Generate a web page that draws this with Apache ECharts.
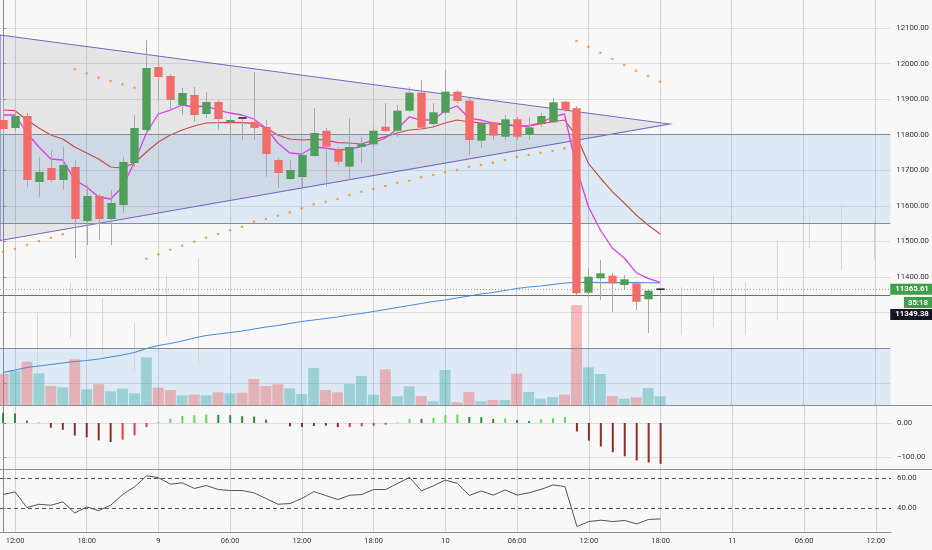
<!DOCTYPE html>
<html><head><meta charset="utf-8">
<script src="https://cdn.jsdelivr.net/npm/echarts@6/dist/echarts.min.js"></script>
<style>html,body{margin:0;padding:0;background:#f8f8f9}#c{width:932px;height:550px}</style>
</head><body><div id="c"></div><script>
// ---- time axis (hours after 11:00 on the 8th) ----
const timeTickHours = [1,7,13,19,25,31,37,43,49,55,61,67,73];
const timeTickLabels = ['12:00','18:00','9','06:00','12:00','18:00','10','06:00','12:00','18:00','11','06:00','12:00'];

// ---- hourly candles ----
const candleOpen = [11841.3,11818.8,11852.6,11667.0,11706.4,11672.6,11709.2,11557.4,11627.7,11563.0,11602.4,11720.5,11813.2,11990.3,11965.0,11883.5,11911.6,11858.2,11891.9,11835.7,11846.9,11835.7,11821.7,11728.9,11675.5,11681.1,11740.1,11811.2,11757.0,11710.1,11765.4,11773.0,11822.5,11811.2,11867.5,11918.1,11830.1,11861.9,11920.9,11895.6,11783.1,11833.7,11794.4,11843.3,11799.2,11830.1,11834.9,11892.8,11874.2,11355.8,11396.3,11403.6,11377.4,11382.2,11337.3,11365.61];
const candleClose = [11816.0,11852.6,11672.6,11695.1,11672.6,11714.8,11563.0,11627.7,11563.0,11608.0,11723.3,11818.8,11987.5,11962.2,11897.6,11917.2,11855.4,11891.9,11844.1,11841.3,11846.9,11818.8,11745.7,11692.3,11700.8,11742.9,11804.8,11766.3,11724.1,11765.4,11773.9,11811.2,11810.4,11867.5,11918.1,11819.7,11863.0,11920.9,11894.7,11785.1,11833.7,11797.2,11843.3,11794.4,11820.8,11852.6,11891.1,11869.4,11354.1,11400.8,11410.3,11382.2,11393.5,11330.5,11361.4,11365.61];
const candleLow = [11799.2,11810.4,11652.9,11624.9,11667.0,11644.5,11453.4,11489.9,11504.0,11489.9,11579.9,11709.2,11804.8,11897.6,11869.4,11855.4,11835.7,11846.9,11813.2,11779.5,11785.1,11785.1,11681.1,11650.2,11672.6,11652.9,11737.3,11652.9,11714.8,11672.6,11720.5,11765.4,11807.6,11793.5,11863.8,11818.8,11818.8,11855.4,11889.1,11742.9,11762.6,11785.1,11785.1,11785.1,11785.1,11821.7,11832.9,11863.8,11349.4,11343.7,11335.3,11302.4,11363.4,11307.2,11242.5,11299.0];
const candleHigh = [11906.0,11869.4,11861.0,11737.3,11757.0,11765.4,11728.9,11658.6,11633.3,11644.5,11737.3,11855.4,12066.2,12018.5,11970.7,11931.3,11934.1,11920.0,11897.6,11855.4,11849.8,11976.3,11841.3,11734.5,11728.9,11748.6,11875.1,11818.8,11765.4,11846.9,11793.5,11821.7,11889.1,11883.5,11934.1,11953.8,11889.1,11981.9,11925.7,11903.2,11836.5,11836.5,11855.4,11849.8,11849.8,11861.0,11903.2,11894.7,11880.7,11425.3,11447.7,11411.2,11405.6,11386.7,11366.2,11367.0];

// ---- overlays ----
const maFast = [11855.4,11855.4,11804.8,11765.4,11731.7,11728.9,11672.6,11652.9,11624.9,11619.2,11652.9,11723.3,11804.8,11858.2,11869.4,11883.5,11877.9,11880.7,11869.4,11861.0,11855.4,11844.1,11818.8,11776.7,11748.6,11745.7,11765.4,11762.6,11757.0,11759.8,11766.3,11776.7,11790.7,11816.0,11849.8,11841.3,11841.3,11867.5,11880.7,11846.9,11841.3,11832.9,11830.1,11824.5,11824.5,11833.7,11849.8,11858.2,11706.4,11597.6,11532.1,11481.5,11453.4,11412.0,11396.3,11385.0];
const maSlow = [11869.4,11867.5,11841.3,11818.8,11799.2,11787.9,11765.4,11748.6,11731.7,11709.2,11706.4,11720.5,11751.4,11779.5,11799.2,11813.2,11824.5,11832.9,11833.7,11834.9,11833.7,11832.1,11818.8,11799.2,11787.9,11785.1,11787.1,11785.1,11777.5,11776.7,11773.9,11785.1,11794.4,11804.8,11813.2,11816.0,11821.7,11832.9,11841.3,11836.5,11832.9,11830.1,11827.3,11824.5,11824.5,11830.1,11836.5,11841.3,11796.4,11719.6,11678.3,11639.8,11608.0,11574.3,11546.1,11520.8];
const maLong = [11130.9,11138.5,11145.5,11149.8,11154.0,11158.2,11162.4,11165.2,11169.5,11175.1,11180.7,11187.7,11199.0,11207.4,11213.0,11220.0,11228.5,11235.5,11239.7,11243.9,11248.2,11253.8,11259.4,11263.6,11269.3,11274.9,11279.1,11283.3,11287.5,11293.1,11297.3,11302.9,11308.5,11314.2,11319.8,11325.4,11331.1,11335.3,11340.9,11346.5,11352.1,11356.4,11362.0,11367.6,11371.8,11374.7,11378.9,11383.1,11384.5,11384.6,11384.4,11384.3,11384.2,11384.0,11383.8,11383.7];
const sar = [11471.1,11478.7,11489.9,11501.2,11510.4,11520.0,11983.9,11972.6,11960.3,11951.0,11941.7,11932.1,11451.4,11463.8,11476.7,11487.9,11499.2,11510.4,11520.8,11531.2,11541.3,11555.4,11563.0,11572.3,11581.8,11593.1,11604.3,11611.6,11619.2,11630.5,11639.8,11647.3,11655.8,11665.1,11670.7,11680.2,11686.7,11694.3,11700.8,11710.0,11714.8,11721.3,11728.9,11738.2,11742.9,11749.4,11754.2,11761.8,12063.4,12047.4,12030.5,12012.8,11996.0,11979.9,11965.9,11949.0];

// ---- volume (relative units) ----
const volume = [31,34.3,43.3,31.7,19,17.7,45.7,15.7,20.7,13.7,16.3,11.7,47.7,17.3,15,9.7,10.3,9.7,12.7,11.7,12.3,26,19,20.7,16.7,11,37,15,12.7,21,29,10.3,35.7,8.7,18.7,9,3.7,35,2.7,13,3.7,5,5,31.3,13,6.3,8,10.3,100,37.7,31,9,6.3,7.7,17,8.7];
const volumeDir = ['d','u','d','u','d','u','d','u','d','u','u','u','u','d','d','u','d','u','d','u','d','d','d','d','u','u','u','d','d','u','u','u','d','u','u','d','u','u','d','d','u','d','u','d','u','u','u','d','d','u','u','d','u','d','u','u'];

// ---- momentum histogram ----
const momentum = [30,28,7,1,-14,-20,-37,-42,-51,-56,-49,-36,-12,3,13,21,23,25,24,23,20,19,10,0,-10,-12,-9,-8,-12,-12,-10,-8,-5,1,12,12,15,23,25,18,17,12,13,9,6,11,14,17,-25,-52,-69,-86,-98,-110,-116,-120];
const momentumState = ['g','g','g','g','m','m','m','m','m','m','r','r','r','l','l','l','l','l','g','g','g','g','g','g','m','m','m','m','m','r','r','r','r','g','l','g','l','l','l','g','g','g','l','g','g','l','l','l','m','m','m','m','m','m','m','m'];

// ---- RSI ----
const rsi = [49.1,50.9,40.2,42.5,41.8,44.1,36.6,40.7,38.2,41.8,49.1,54.3,61.8,60.5,56.1,57.0,53.2,55.2,52.5,51.8,51.8,50.2,46.4,42.5,43.0,46.4,51.1,48.4,45.7,48.6,49.1,52.5,52.5,56.6,60.7,51.6,55.0,58.9,56.6,48.5,51.5,48.7,52.2,48.7,50.3,52.6,55.6,54.5,27.4,30.8,31.7,30.8,31.5,29.2,32.2,32.6];
const rsiLevels = [40, 60];

// ---- faint ghost ranges ----
const ghostHour = [2.81,5.60,8.25,10.95,13.61,16.33,56.77,59.41,62.15,64.82,67.50,70.18,72.94];
const ghostLow  = [11130,11228.5,11175,11138.5,11231.3,11152.5,11237,11259.4,11237,11279.1,11481.5,11419.6,11447.7];
const ghostHigh = [11298.7,11383.1,11340.9,11270.6,11405.6,11453.4,11371.8,11405.6,11385.9,11504.0,11574.3,11608.0,11560.2];

// ---- drawings ----
const triangleHour = [-0.255, 55.79, -0.255];
const trianglePrice = [12080.3, 11830.1, 11502.6];
const zoneTop = [11800, 11200];
const zoneBottom = [11550, 11040.1];
const levelLines = [11800, 11550, 11200];
const markedLevel = 11349.38;
const lastPrice = 11365.61;
const countdown = '35:18';
const priceGridValues = [11100,11200,11300,11400,11500,11600,11700,11800,11900,12000,12100];
const priceLabelValues = [11400,11500,11600,11700,11800,11900,12000,12100];
const momentumTicks = [-100, 0];

// ---- ranges ----
const xMin = -0.255, xMax = 74.27;
const priceMin = 11040.1, priceMax = 12178.7;
const volMax = 405;
const momMin = -135.3, momMax = 52.9;
const rsiMin = 23.7, rsiMax = 66.4;

const FONT = 'Roboto';
const GRID_C = '#dedee0';
const AXIS_C = '#8d8f96';
const UP = '#4f9f5b', DOWN = '#f26d69';
const momColors = {g:'#2f8a3d', l:'#57e057', m:'#8f2c2c', r:'#f03b3b'};

const fmt2 = v => (v < 0 ? '\u2212' + Math.abs(v).toFixed(2) : v.toFixed(2));

function xAxisFor(i, showLabels) {
  return {
    type: 'value', gridIndex: i, min: xMin, max: xMax,
    axisLine: {show: showLabels, lineStyle: {color: AXIS_C}},
    axisTick: {show: false, customValues: timeTickHours},
    axisLabel: showLabels ? {
      show: true, customValues: timeTickHours, color: '#333', fontSize: 7.5, fontFamily: FONT, margin: 5,
      formatter: v => timeTickLabels[timeTickHours.indexOf(Math.round(v))]
    } : {show: false},
    splitLine: {show: true, lineStyle: {color: '#d4d4d6', width: 1}}
  };
}

const candleData = candleOpen.map((o, i) => [i, o, candleClose[i], candleLow[i], candleHigh[i]]);

function renderCandle(params, api) {
  const x = api.value(0), o = api.value(1), c = api.value(2), l = api.value(3), h = api.value(4);
  const pO = api.coord([x, o]), pC = api.coord([x, c]), pL = api.coord([x, l]), pH = api.coord([x, h]);
  const w = api.size([1, 0])[0] * 0.7;
  const cx = Math.round(pO[0]) + 0.5;
  const children = [{type: 'line', shape: {x1: cx, y1: pH[1], x2: cx, y2: pL[1]}, style: {stroke: '#a9a9ab', lineWidth: 1}}];
  if (o === c) {
    children.push({type: 'line', shape: {x1: cx - w / 2, y1: pO[1], x2: cx + w / 2, y2: pO[1]}, style: {stroke: '#2b2b2b', lineWidth: 1.6}});
  } else {
    const top = Math.min(pO[1], pC[1]), bot = Math.max(pO[1], pC[1]);
    children.push({type: 'rect', shape: {x: cx - w / 2, y: top, width: w, height: Math.max(1, bot - top)}, style: {fill: c > o ? UP : DOWN}});
  }
  return {type: 'group', children};
}

function renderGhost(params, api) {
  const a = api.coord([api.value(0), api.value(1)]), b = api.coord([api.value(0), api.value(2)]);
  const cx = Math.round(a[0]) + 0.5;
  return {type: 'line', shape: {x1: cx, y1: a[1], x2: cx, y2: b[1]}, style: {stroke: '#d7d7d9', lineWidth: 1}};
}

const triPts = triangleHour.map((h, i) => [h, trianglePrice[i]]);
function renderTriangle(params, api) {
  if (params.dataIndex !== 0) return null;
  const pts = triPts.map(p => api.coord(p));
  return {type: 'polygon', shape: {points: pts}, style: {fill: 'rgba(118,120,134,0.15)', stroke: '#7468c6', lineWidth: 1.1}};
}

const boxLabel = bg => ({show: true, position: 'end', distance: 0, formatter: p => p.value.toFixed(2),
  color: '#fff', backgroundColor: bg, padding: [2, 5, 1, 5], fontSize: 7.8, fontWeight: 'bold', fontFamily: FONT});

const option = {
  animation: false,
  backgroundColor: '#f8f8f9',
  grid: [
    {left: 0, top: 0, width: 891, height: 405},
    {left: 0, top: 405, width: 891, height: 64},
    {left: 0, top: 469, width: 891, height: 63}
  ],
  xAxis: [xAxisFor(0, false), xAxisFor(1, false), xAxisFor(2, true)],
  yAxis: [
    {type: 'value', gridIndex: 0, position: 'right', min: priceMin, max: priceMax,
     axisLine: {show: true, lineStyle: {color: AXIS_C}},
     axisTick: {show: true, length: 3, customValues: priceGridValues, lineStyle: {color: AXIS_C}},
     axisLabel: {customValues: priceLabelValues, formatter: fmt2, color: '#333', fontSize: 7.8, fontFamily: FONT, margin: 6},
     splitLine: {show: true, lineStyle: {color: GRID_C}}},
    {type: 'value', gridIndex: 0, min: 0, max: volMax, show: false, splitLine: {show: false}},
    {type: 'value', gridIndex: 1, position: 'right', min: momMin, max: momMax,
     axisLine: {show: true, lineStyle: {color: AXIS_C}},
     axisTick: {show: true, length: 3, customValues: momentumTicks, lineStyle: {color: AXIS_C}},
     axisLabel: {customValues: momentumTicks, formatter: fmt2, color: '#333', fontSize: 7.8, fontFamily: FONT, margin: 6},
     splitLine: {show: true, lineStyle: {color: GRID_C}}},
    {type: 'value', gridIndex: 2, position: 'right', min: rsiMin, max: rsiMax,
     axisLine: {show: true, lineStyle: {color: AXIS_C}},
     axisTick: {show: true, length: 3, customValues: rsiLevels, lineStyle: {color: AXIS_C}},
     axisLabel: {customValues: rsiLevels, formatter: fmt2, color: '#333', fontSize: 7.8, fontFamily: FONT, margin: 6},
     splitLine: {show: false}}
  ],
  series: [
    {name: 'zones', type: 'line', xAxisIndex: 0, yAxisIndex: 0, z: 1, silent: true,
     data: [[xMin, priceMin]], symbol: 'none', lineStyle: {opacity: 0},
     markArea: {silent: true, itemStyle: {color: 'rgba(40,140,235,0.13)'},
       data: zoneTop.map((t, i) => [{yAxis: t}, {yAxis: zoneBottom[i]}])}},
    {name: 'ghost', type: 'custom', xAxisIndex: 0, yAxisIndex: 0, z: 1, silent: true, clip: true,
     renderItem: renderGhost, data: ghostHour.map((h, i) => [h, ghostLow[i], ghostHigh[i]])},
    {name: 'volume', type: 'bar', xAxisIndex: 0, yAxisIndex: 1, z: 2, barWidth: 11, silent: true,
     data: volume.map((v, i) => ({value: [i, v], itemStyle: {color: volumeDir[i] === 'u' ? 'rgba(38,166,154,0.36)' : 'rgba(239,83,80,0.38)'}}))},
    {name: 'triangle', type: 'custom', xAxisIndex: 0, yAxisIndex: 0, z: 2, silent: true, clip: true,
     renderItem: renderTriangle, data: triPts},
    {name: 'levels', type: 'line', xAxisIndex: 0, yAxisIndex: 0, z: 4, silent: true, clip: false,
     data: [[xMin, priceMin]], symbol: 'none', lineStyle: {opacity: 0},
     markLine: {silent: true, symbol: ['none', 'none'], animation: false,
       data: [
         ...levelLines.map(v => ({yAxis: v, lineStyle: {color: '#8a8c94', width: 1, type: 'solid'}, label: {show: false}})),
         {yAxis: markedLevel, lineStyle: {color: '#6e7078', width: 1, type: 'solid'},
          label: Object.assign(boxLabel('#131722'), {offset: [0, 19.5]})},
         {yAxis: lastPrice, lineStyle: {color: '#9a9ca4', width: 1, type: [1, 2]}, label: boxLabel('#3f9e4c')}
       ]}},
    {name: 'maLong', type: 'line', xAxisIndex: 0, yAxisIndex: 0, z: 4, symbol: 'none', silent: true,
     data: maLong.map((v, i) => [i, v]), lineStyle: {color: '#4b8fe0', width: 1.2}},
    {name: 'maSlow', type: 'line', xAxisIndex: 0, yAxisIndex: 0, z: 4, symbol: 'none', silent: true,
     data: maSlow.map((v, i) => [i, v]), lineStyle: {color: '#c94f4c', width: 1.2}},
    {name: 'maFast', type: 'line', xAxisIndex: 0, yAxisIndex: 0, z: 4, symbol: 'none', silent: true,
     data: maFast.map((v, i) => [i, v]), lineStyle: {color: '#e03fe6', width: 1.3}},
    {name: 'sar', type: 'scatter', xAxisIndex: 0, yAxisIndex: 0, z: 4, silent: true,
     symbolSize: 2.6, itemStyle: {color: '#f5901e'}, data: sar.map((v, i) => [i, v])},
    {name: 'candles', type: 'custom', xAxisIndex: 0, yAxisIndex: 0, z: 6, silent: true, clip: true,
     renderItem: renderCandle, encode: {x: 0, y: [1, 2, 3, 4]}, data: candleData},
    {name: 'momentum', type: 'bar', xAxisIndex: 1, yAxisIndex: 2, barWidth: 2, silent: true,
     data: momentum.map((v, i) => ({value: [i, v], itemStyle: {color: momColors[momentumState[i]]}}))},
    {name: 'rsi', type: 'line', xAxisIndex: 2, yAxisIndex: 3, symbol: 'none', silent: true,
     data: rsi.map((v, i) => [i, v]), lineStyle: {color: '#555558', width: 1},
     markLine: {silent: true, symbol: ['none', 'none'], label: {show: false},
       lineStyle: {color: '#58585c', width: 1, type: [4, 3]},
       data: rsiLevels.map(v => ({yAxis: v}))}}
  ],
  graphic: [
    {type: 'line', z: 10, silent: true, shape: {x1: 0, y1: 405.5, x2: 932, y2: 405.5}, style: {stroke: '#8d8f96', lineWidth: 1}},
    {type: 'line', z: 10, silent: true, shape: {x1: 0, y1: 469.5, x2: 932, y2: 469.5}, style: {stroke: '#8d8f96', lineWidth: 1}},
    {type: 'text', z: 20, silent: true, right: 0, top: 297,
     style: {text: countdown, fill: '#fff', backgroundColor: '#3f9e4c', padding: [2, 4, 1, 4], font: 'bold 7.8px Roboto'}}
  ]
};

const chart = echarts.init(document.getElementById('c'));
chart.setOption(option);
</script></body></html>
